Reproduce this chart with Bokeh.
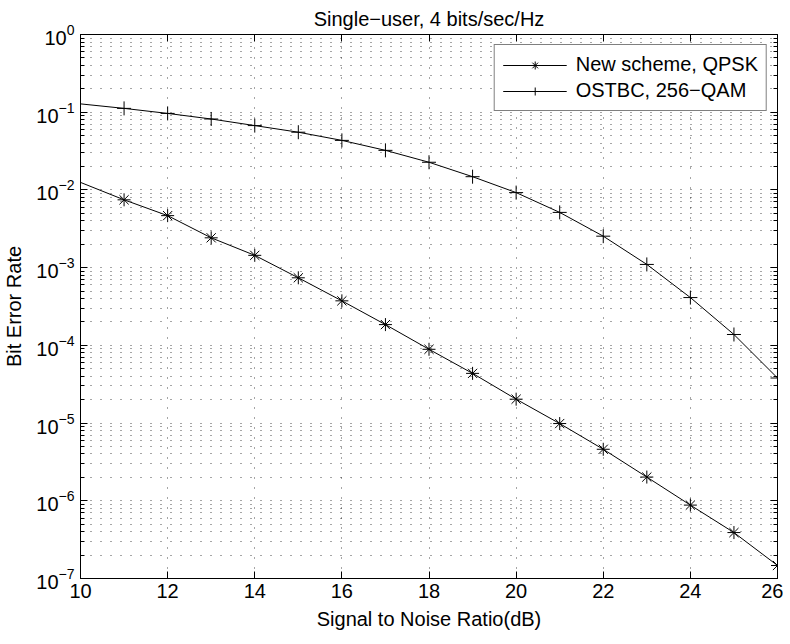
import numpy as np
from bokeh.plotting import figure
from bokeh.models import (FixedTicker, LinearAxis, Legend, LegendItem,
                          Range1d, CustomJSTickFormatter)
from bokeh.embed import file_html
from bokeh.resources import INLINE

# ---- data ----
snr = [10, 11, 12, 13, 14, 15, 16, 17, 18, 19, 20, 21, 22, 23, 24, 25, 26]
ber_new_qpsk = [0.0125, 0.00746, 0.00467, 0.00242, 0.00144, 0.00074, 0.000374,
                0.000185, 8.9e-5, 4.36e-5, 2.03e-5, 9.86e-6, 4.6e-6, 2.02e-6,
                8.8e-7, 3.9e-7, 1.47e-7]
ber_ostbc_256qam = [0.128, 0.112, 0.0965, 0.0818, 0.0673, 0.0553, 0.0434, 0.0323,
                    0.0227, 0.0148, 0.00924, 0.00514, 0.00254, 0.0011, 0.000412,
                    0.000138, 3.8e-5]
x_ticks = [10, 12, 14, 16, 18, 20, 22, 24, 26]
y_decades = [-7, -6, -5, -4, -3, -2, -1, 0]
title_text = "Single\u2212user, 4 bits/sec/Hz"
x_label = "Signal to Noise Ratio(dB)"
y_label = "Bit Error Rate"
legend_labels = ["New scheme, QPSK", "OSTBC, 256\u2212QAM"]

FONT = "Liberation Sans"

y_major = [10.0 ** d for d in y_decades]
y_minor = [m * 10.0 ** d for d in y_decades[:-1] for m in range(2, 10)]

p = figure(width=783, height=636,
           x_range=Range1d(10, 26), y_range=Range1d(1e-7, 1),
           y_axis_type="log", output_backend="svg", toolbar_location=None,
           min_border_left=75, min_border_top=29, min_border_right=6,
           min_border_bottom=58)

p.title.text = title_text
p.title.text_font = FONT
p.title.text_font_size = "20px"
p.title.text_font_style = "normal"
p.title.align = "center"
p.title.text_color = "black"
p.title.standoff = 10

p.background_fill_color = "white"
p.border_fill_color = "white"
p.outline_line_color = "black"
p.outline_line_width = 1

xt = FixedTicker(ticks=x_ticks, minor_ticks=[])
yt = FixedTicker(ticks=y_major, minor_ticks=y_minor)

def style_axis(ax, labels=True):
    ax.axis_line_color = "black"
    ax.major_tick_in = 7
    ax.major_tick_out = 0
    ax.minor_tick_in = 4
    ax.minor_tick_out = 0
    ax.major_tick_line_color = "black"
    ax.minor_tick_line_color = "black"
    ax.major_label_text_font = FONT
    ax.major_label_text_color = "black"
    ax.major_label_text_font_size = "20px"
    ax.axis_label_text_font = FONT
    ax.axis_label_text_font_style = "normal"
    ax.axis_label_text_font_size = "20px"
    ax.axis_label_text_color = "black"
    if not labels:
        ax.formatter = CustomJSTickFormatter(code="return ''")
        ax.major_label_text_font_size = "1px"
        ax.major_label_standoff = 0
        ax.axis_label_standoff = 0

xa = p.xaxis[0]
xa.ticker = xt
xa.axis_label = x_label
xa.major_label_standoff = 5
xa.axis_label_standoff = 7
style_axis(xa)

ya = p.yaxis[0]
ya.ticker = yt
ya.axis_label = y_label
ya.major_label_standoff = 6
ya.axis_label_standoff = 8
style_axis(ya)

top = LinearAxis(ticker=xt)
style_axis(top, labels=False)
p.add_layout(top, "above")
right = LinearAxis(ticker=yt)
style_axis(right, labels=False)
p.add_layout(right, "right")

p.xgrid[0].ticker = xt
p.ygrid[0].ticker = yt
for g in (p.xgrid[0], p.ygrid[0]):
    g.grid_line_color = "black"
    g.grid_line_dash = "1 9"
    g.grid_line_width = 1
    g.grid_line_alpha = 0.7
p.ygrid[0].minor_grid_line_color = "black"
p.ygrid[0].minor_grid_line_dash = "1 9"
p.ygrid[0].minor_grid_line_width = 1
p.ygrid[0].minor_grid_line_alpha = 0.7

l1 = p.line(snr, ber_new_qpsk, line_color="black", line_width=1)
m1 = p.scatter(snr[1:], ber_new_qpsk[1:], marker="asterisk", size=13,
               line_color="black", line_width=1)
l2 = p.line(snr, ber_ostbc_256qam, line_color="black", line_width=1)
m2 = p.scatter(snr[1:], ber_ostbc_256qam[1:], marker="cross", size=14,
               line_color="black", line_width=1)

legend = Legend(items=[LegendItem(label=legend_labels[0], renderers=[l1, m1]),
                       LegendItem(label=legend_labels[1], renderers=[l2, m2])],
                location="top_right")
legend.margin = 10
legend.padding = 8
legend.spacing = 3
legend.glyph_width = 64
legend.label_height = 22
legend.label_standoff = 9
legend.label_text_font = FONT
legend.label_text_font_size = "20px"
legend.label_text_color = "black"
legend.border_line_color = "black"
legend.border_line_width = 1
legend.background_fill_color = "white"
legend.background_fill_alpha = 1
p.add_layout(legend, "center")

open("out.html", "w").write(file_html(p, INLINE))
